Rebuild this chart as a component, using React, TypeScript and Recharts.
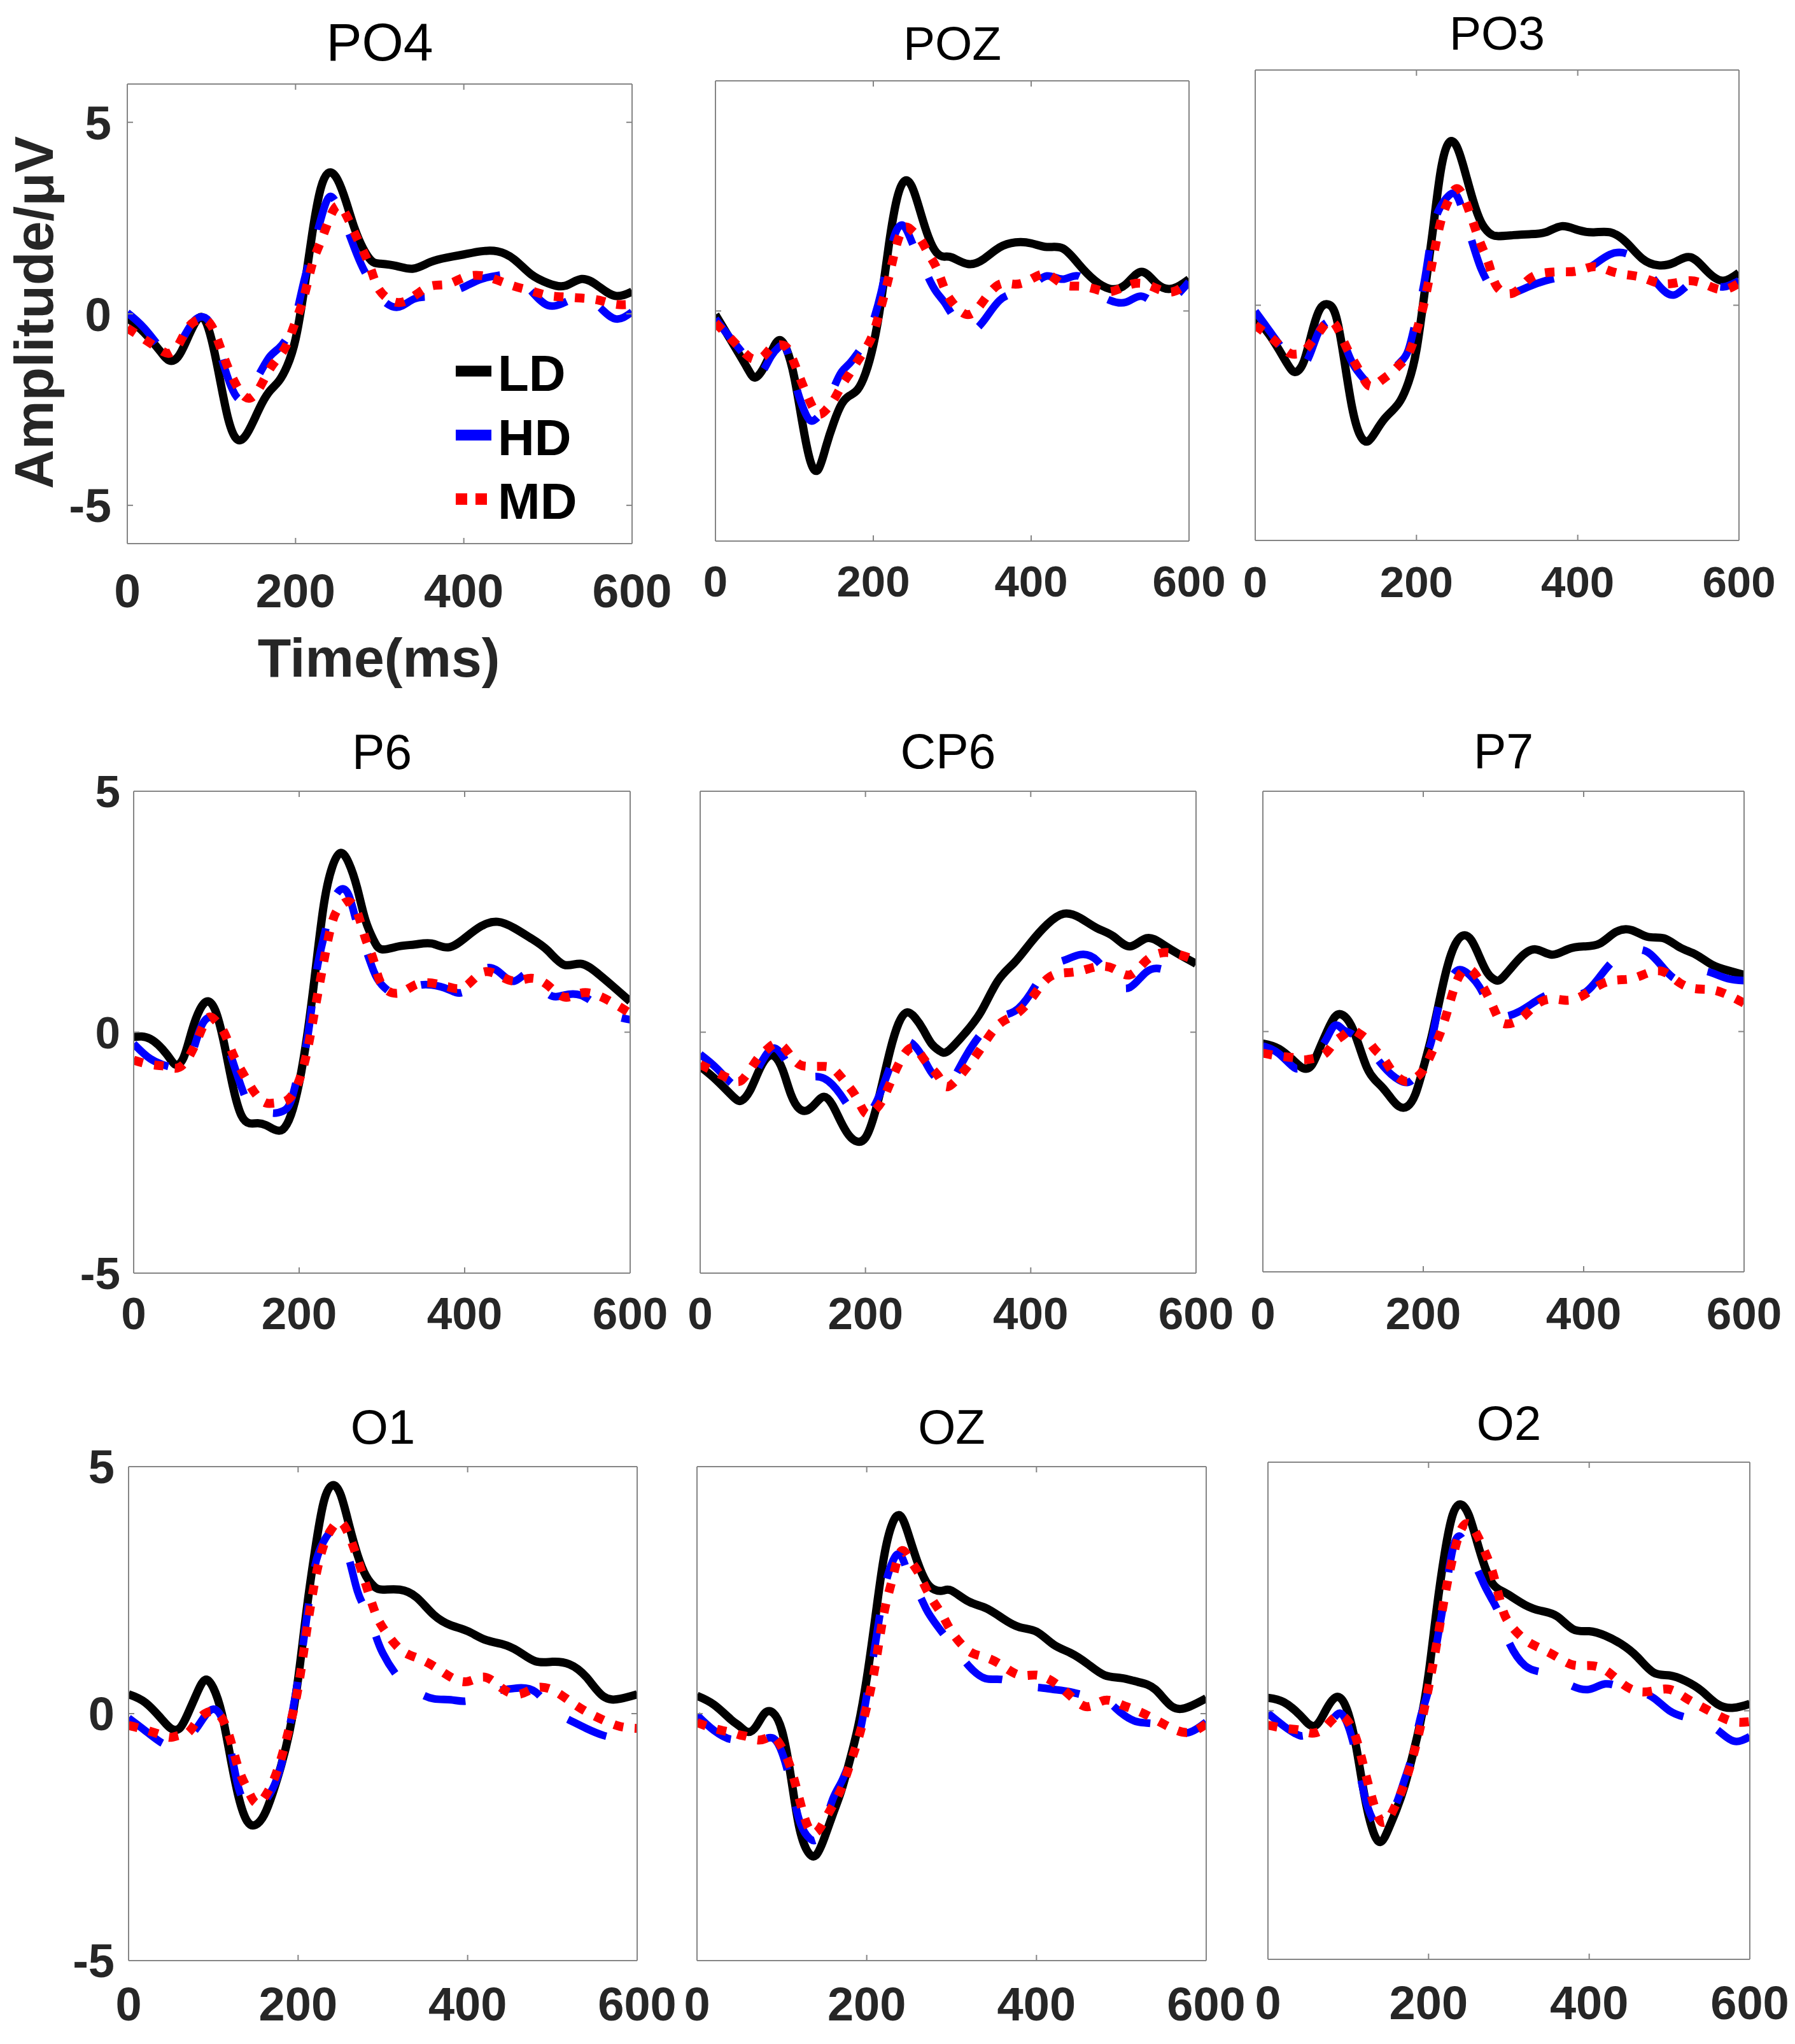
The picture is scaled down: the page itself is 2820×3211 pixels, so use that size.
import React from 'react';
import { LineChart, Line, XAxis, YAxis, Legend } from 'recharts';

const W = 2820;
const H = 3211;
const FONT = "'Liberation Sans', Arial, Helvetica, sans-serif";
const AXIS = '#858585';
const TICK_TXT = '#262626';

// time axis (ms)
const TIME = [0, 20, 40, 50, 60, 70, 80, 90, 100, 110, 120, 130, 140, 150, 160, 170, 180, 190, 200, 210, 220, 230, 240, 250, 260, 270, 280, 290, 300, 320, 340, 360, 380, 400, 420, 440, 460, 480, 500, 520, 540, 560, 580, 600];
const X_TICKS = [0, 200, 400, 600];
const Y_TICKS = [-5, 0, 5];
const SERIES_NAMES = ['LD', 'HD', 'MD'];

// ---- PO4 ----
const PO4_LD = [-0.1, -0.49, -1.0, -1.22, -1.13, -0.72, -0.26, -0.1, -0.66, -1.7, -2.75, -3.27, -3.2, -2.8, -2.34, -2.0, -1.76, -1.36, -0.66, 0.61, 2.12, 3.28, 3.69, 3.5, 2.93, 2.24, 1.72, 1.39, 1.31, 1.25, 1.18, 1.35, 1.47, 1.55, 1.63, 1.63, 1.42, 1.03, 0.8, 0.73, 0.91, 0.72, 0.47, 0.58];
const PO4_HD = [0.03, -0.37, -0.9, -1.0, -0.84, -0.49, -0.17, -0.08, -0.31, -1.0, -1.7, -2.17, -2.2, -1.85, -1.45, -1.1, -0.9, -0.62, -0.08, 0.85, 1.66, 2.47, 3.05, 2.82, 2.3, 1.72, 1.2, 0.79, 0.44, 0.17, 0.38, 0.45, 0.55, 0.7, 0.9, 1.0, 0.98, 0.6, 0.22, 0.3, 0.42, 0.2, -0.13, 0.05];
const PO4_MD = [-0.37, -0.66, -0.95, -1.03, -0.84, -0.43, -0.2, -0.14, -0.31, -0.84, -1.42, -1.88, -2.17, -2.15, -1.82, -1.42, -1.13, -0.78, -0.2, 0.44, 1.31, 1.89, 2.47, 2.82, 2.59, 2.12, 1.66, 1.14, 0.61, 0.3, 0.45, 0.72, 0.77, 0.95, 1.0, 0.88, 0.72, 0.6, 0.48, 0.44, 0.41, 0.36, 0.25, 0.25];

// ---- POZ ----
const POZ_LD = [-0.08, -0.65, -1.23, -1.45, -1.27, -0.92, -0.64, -0.83, -1.45, -2.42, -3.25, -3.45, -2.95, -2.42, -2.02, -1.84, -1.71, -1.36, -0.74, 0.23, 1.47, 2.44, 2.83, 2.66, 2.13, 1.6, 1.27, 1.18, 1.16, 1.02, 1.13, 1.38, 1.49, 1.47, 1.39, 1.36, 1.02, 0.67, 0.48, 0.58, 0.85, 0.58, 0.49, 0.69];
const POZ_HD = [-0.17, -0.61, -1.05, -1.35, -1.3, -1.0, -0.79, -0.83, -1.5, -2.06, -2.38, -2.3, -2.07, -1.67, -1.32, -1.14, -0.92, -0.65, -0.21, 0.41, 1.2, 1.77, 1.82, 1.45, 1.1, 0.72, 0.41, 0.19, -0.08, -0.43, -0.21, 0.23, 0.39, 0.54, 0.76, 0.69, 0.76, 0.45, 0.23, 0.19, 0.32, 0.14, 0.27, 0.63];
const POZ_MD = [-0.26, -0.61, -0.96, -1.05, -1.0, -0.81, -0.74, -0.79, -1.14, -1.58, -1.98, -2.24, -2.15, -1.93, -1.62, -1.36, -1.09, -0.83, -0.48, 0.1, 0.76, 1.47, 1.82, 1.73, 1.55, 1.24, 0.94, 0.49, 0.19, -0.08, 0.23, 0.58, 0.58, 0.69, 0.8, 0.58, 0.54, 0.48, 0.42, 0.54, 0.6, 0.48, 0.42, 0.63];

// ---- PO3 ----
const PO3_LD = [-0.26, -0.69, -1.25, -1.42, -1.21, -0.6, -0.09, 0.02, -0.22, -1.12, -2.16, -2.76, -2.89, -2.67, -2.42, -2.24, -2.03, -1.64, -0.95, 0.26, 1.55, 2.85, 3.45, 3.37, 2.85, 2.24, 1.77, 1.54, 1.47, 1.49, 1.51, 1.55, 1.68, 1.6, 1.55, 1.55, 1.34, 0.99, 0.85, 0.91, 1.02, 0.73, 0.52, 0.69];
const PO3_HD = [-0.13, -0.6, -1.04, -1.12, -1.25, -0.95, -0.52, -0.35, -0.35, -0.78, -1.21, -1.47, -1.64, -1.6, -1.47, -1.38, -1.21, -0.95, -0.26, 0.52, 1.58, 2.1, 2.33, 2.33, 1.85, 1.29, 0.78, 0.43, 0.22, 0.26, 0.4, 0.52, 0.6, 0.67, 0.86, 1.08, 1.1, 0.86, 0.43, 0.22, 0.47, 0.47, 0.39, 0.52];
const PO3_MD = [-0.43, -0.69, -0.99, -1.04, -0.99, -0.78, -0.56, -0.35, -0.43, -0.78, -1.12, -1.42, -1.7, -1.68, -1.55, -1.42, -1.25, -1.04, -0.56, 0.09, 0.95, 1.77, 2.24, 2.48, 2.24, 1.77, 1.29, 0.86, 0.39, 0.26, 0.56, 0.69, 0.71, 0.73, 0.82, 0.73, 0.65, 0.59, 0.47, 0.47, 0.52, 0.43, 0.33, 0.47];

// ---- P6 ----
const P6_LD = [-0.1, -0.14, -0.46, -0.67, -0.54, 0.01, 0.47, 0.64, 0.39, -0.29, -1.13, -1.72, -1.89, -1.89, -1.93, -2.02, -2.02, -1.72, -1.05, -0.03, 1.32, 2.67, 3.43, 3.72, 3.51, 3.0, 2.33, 1.91, 1.72, 1.78, 1.82, 1.84, 1.76, 1.95, 2.2, 2.29, 2.16, 1.95, 1.7, 1.4, 1.42, 1.23, 0.94, 0.64];
const P6_HD = [-0.24, -0.55, -0.7, -0.72, -0.67, -0.46, 0.05, 0.3, 0.22, -0.12, -0.62, -1.13, -1.51, -1.6, -1.65, -1.68, -1.64, -1.43, -0.79, -0.12, 1.15, 1.99, 2.67, 2.96, 2.84, 2.24, 1.74, 1.27, 0.98, 0.77, 0.94, 0.98, 0.89, 0.85, 1.27, 1.27, 1.06, 1.23, 0.81, 0.77, 0.77, 0.56, 0.35, 0.26];
const P6_MD = [-0.58, -0.67, -0.71, -0.75, -0.67, -0.41, -0.03, 0.3, 0.22, -0.03, -0.46, -0.79, -1.09, -1.34, -1.47, -1.47, -1.45, -1.34, -1.0, -0.37, 0.56, 1.49, 2.29, 2.62, 2.71, 2.5, 1.95, 1.49, 0.98, 0.81, 0.98, 1.02, 0.94, 0.94, 1.23, 1.19, 1.06, 1.12, 0.98, 0.73, 0.81, 0.77, 0.6, 0.39];

// ---- CP6 ----
const CP6_LD = [-0.71, -1.0, -1.34, -1.42, -1.22, -0.84, -0.54, -0.5, -0.79, -1.3, -1.59, -1.62, -1.47, -1.34, -1.51, -1.85, -2.14, -2.27, -2.19, -1.76, -1.09, -0.37, 0.18, 0.41, 0.3, 0.05, -0.24, -0.39, -0.39, -0.03, 0.43, 1.06, 1.44, 1.86, 2.24, 2.46, 2.37, 2.16, 1.99, 1.78, 1.95, 1.82, 1.61, 1.42];
const CP6_HD = [-0.46, -0.75, -1.09, -1.09, -1.0, -0.75, -0.46, -0.33, -0.5, -0.75, -0.84, -0.92, -0.92, -0.96, -1.09, -1.3, -1.55, -1.72, -1.72, -1.55, -1.17, -0.71, -0.33, -0.19, -0.29, -0.54, -0.84, -1.05, -1.13, -0.54, -0.03, 0.3, 0.43, 0.81, 1.32, 1.49, 1.61, 1.49, 1.06, 0.93, 1.25, 1.3, 1.15, 1.11];
const CP6_MD = [-0.67, -0.84, -1.0, -1.0, -0.79, -0.54, -0.37, -0.24, -0.29, -0.5, -0.67, -0.71, -0.71, -0.71, -0.75, -0.92, -1.13, -1.38, -1.68, -1.64, -1.43, -1.05, -0.67, -0.39, -0.33, -0.54, -0.75, -0.96, -1.13, -0.79, -0.33, 0.14, 0.35, 0.68, 1.11, 1.23, 1.27, 1.36, 1.32, 1.19, 1.49, 1.65, 1.61, 1.49];

// ---- P7 ----
const P7_LD = [-0.25, -0.36, -0.63, -0.76, -0.72, -0.38, 0.0, 0.31, 0.34, 0.13, -0.3, -0.76, -1.01, -1.18, -1.39, -1.56, -1.56, -1.31, -0.76, -0.13, 0.63, 1.35, 1.82, 2.0, 1.9, 1.56, 1.22, 1.07, 1.14, 1.52, 1.71, 1.6, 1.71, 1.77, 1.83, 2.07, 2.11, 1.97, 1.94, 1.75, 1.6, 1.39, 1.27, 1.18];
const P7_HD = [-0.3, -0.46, -0.76, -0.68, -0.55, -0.38, -0.13, 0.13, 0.04, -0.04, -0.17, -0.3, -0.51, -0.72, -0.89, -1.01, -1.06, -0.93, -0.59, -0.21, 0.59, 0.97, 1.24, 1.27, 1.14, 0.93, 0.63, 0.42, 0.31, 0.42, 0.63, 0.8, 0.82, 0.8, 1.14, 1.52, 1.69, 1.65, 1.31, 1.07, 1.24, 1.22, 1.1, 1.06];
const P7_MD = [-0.45, -0.51, -0.55, -0.59, -0.57, -0.53, -0.42, -0.21, -0.08, 0.03, -0.04, -0.17, -0.38, -0.55, -0.8, -0.97, -1.04, -0.97, -0.8, -0.46, -0.08, 0.42, 0.97, 1.27, 1.28, 1.06, 0.76, 0.4, 0.17, 0.25, 0.55, 0.68, 0.65, 0.76, 0.97, 1.07, 1.1, 1.22, 1.24, 1.01, 0.89, 0.87, 0.76, 0.59];

// ---- O1 ----
const O1_LD = [0.39, 0.22, -0.13, -0.3, -0.3, 0.0, 0.39, 0.68, 0.52, 0.0, -0.87, -1.7, -2.18, -2.25, -2.05, -1.61, -1.05, -0.35, 0.7, 2.09, 3.31, 4.27, 4.62, 4.44, 3.83, 3.22, 2.79, 2.57, 2.51, 2.51, 2.35, 2.0, 1.79, 1.67, 1.5, 1.41, 1.26, 1.06, 1.05, 1.0, 0.74, 0.35, 0.3, 0.39];
const O1_HD = [-0.09, -0.35, -0.6, -0.6, -0.55, -0.48, -0.3, -0.05, 0.09, -0.09, -0.7, -1.52, -1.83, -1.92, -1.79, -1.52, -1.05, -0.26, 0.7, 1.92, 3.0, 3.48, 3.7, 3.57, 3.14, 2.48, 2.09, 1.66, 1.22, 0.7, 0.44, 0.3, 0.28, 0.26, 0.42, 0.48, 0.52, 0.44, 0.09, -0.13, -0.3, -0.44, -0.48, -0.35];
const O1_MD = [-0.24, -0.33, -0.44, -0.48, -0.44, -0.39, -0.17, 0.0, 0.04, -0.09, -0.52, -1.13, -1.52, -1.81, -1.7, -1.39, -0.91, -0.26, 0.52, 1.66, 2.7, 3.4, 3.75, 3.88, 3.61, 3.14, 2.61, 2.09, 1.74, 1.31, 1.13, 0.96, 0.74, 0.65, 0.74, 0.52, 0.39, 0.52, 0.48, 0.26, 0.04, -0.13, -0.26, -0.3];

// ---- OZ ----
const OZ_LD = [0.36, 0.18, -0.12, -0.25, -0.37, -0.25, 0.01, 0.01, -0.34, -1.21, -2.26, -2.78, -2.87, -2.52, -2.04, -1.56, -0.95, -0.25, 0.71, 1.93, 3.14, 3.84, 4.0, 3.58, 3.06, 2.67, 2.51, 2.49, 2.49, 2.27, 2.14, 1.93, 1.75, 1.66, 1.4, 1.23, 1.01, 0.78, 0.72, 0.64, 0.49, 0.14, 0.14, 0.31];
const OZ_HD = [-0.03, -0.34, -0.52, -0.47, -0.47, -0.51, -0.51, -0.5, -0.78, -1.39, -2.13, -2.48, -2.56, -2.26, -1.73, -1.39, -0.99, -0.51, 0.36, 1.4, 2.45, 3.06, 3.21, 2.77, 2.47, 2.12, 1.85, 1.62, 1.4, 0.97, 0.71, 0.69, 0.57, 0.53, 0.49, 0.44, 0.36, 0.29, 0.01, -0.17, -0.21, -0.34, -0.38, -0.17];
const OZ_MD = [-0.18, -0.3, -0.38, -0.43, -0.47, -0.53, -0.51, -0.47, -0.69, -1.08, -1.69, -2.26, -2.41, -2.17, -1.86, -1.52, -1.04, -0.51, 0.14, 0.97, 2.01, 2.71, 3.28, 3.14, 2.88, 2.53, 2.23, 1.97, 1.66, 1.27, 1.14, 0.97, 0.78, 0.78, 0.64, 0.36, 0.14, 0.27, 0.18, 0.05, -0.12, -0.3, -0.38, -0.21];

// ---- O2 ----
const O2_LD = [0.26, 0.17, -0.09, -0.26, -0.29, -0.05, 0.21, 0.26, -0.05, -0.74, -1.69, -2.38, -2.64, -2.38, -1.99, -1.52, -0.91, -0.22, 0.73, 2.03, 3.16, 3.94, 4.15, 3.94, 3.42, 2.9, 2.55, 2.42, 2.33, 2.13, 2.01, 1.9, 1.64, 1.6, 1.51, 1.34, 1.08, 0.77, 0.71, 0.6, 0.4, 0.13, 0.06, 0.14];
const O2_HD = [-0.05, -0.31, -0.5, -0.45, -0.4, -0.3, -0.18, -0.05, -0.31, -0.91, -1.69, -2.17, -2.3, -2.12, -1.86, -1.39, -0.87, -0.13, 0.43, 1.34, 2.29, 3.24, 3.5, 3.16, 2.86, 2.51, 2.21, 1.86, 1.38, 0.91, 0.78, 0.65, 0.49, 0.43, 0.54, 0.47, 0.39, 0.26, 0.0, -0.13, -0.22, -0.39, -0.61, -0.52];
const O2_MD = [-0.29, -0.35, -0.39, -0.44, -0.44, -0.35, -0.18, -0.09, -0.22, -0.57, -1.17, -1.78, -2.21, -2.17, -1.86, -1.47, -0.95, -0.31, 0.47, 1.34, 2.29, 3.07, 3.63, 3.76, 3.55, 3.2, 2.77, 2.16, 1.77, 1.43, 1.25, 1.08, 0.92, 0.91, 0.82, 0.56, 0.39, 0.4, 0.43, 0.26, 0.08, -0.09, -0.22, -0.22];

// ---- styles of the three series ----
const STYLE: Record<string, any> = {
  LD: { stroke: '#000000', width: 13, dash: undefined, legendDash: undefined, legendWidth: 17 },
  HD: { stroke: '#0000ff', width: 12, dash: '66 58', legendDash: undefined, legendWidth: 17 },
  MD: { stroke: '#ff0000', width: 14, dash: '15 18', legendDash: '18 13', legendWidth: 18 },
};

// ---- layout of the nine panels ----
const PANELS = [
  { name: 'PO4', ld: PO4_LD, hd: PO4_HD, md: PO4_MD, box: { l: 200, r: 993, t: 132, b: 854 }, yDomain: [-6, 6], yLabels: true, titleY: 95, titleFs: 84, tickFs: 75, xLabY: 954, yLabGap: 25, extras: true },
  { name: 'POZ', ld: POZ_LD, hd: POZ_HD, md: POZ_MD, box: { l: 1124, r: 1868, t: 127, b: 850 }, yDomain: [-5, 5], yLabels: false, titleY: 94, titleFs: 75, tickFs: 69, xLabY: 937, yLabGap: 22, extras: false },
  { name: 'PO3', ld: PO3_LD, hd: PO3_HD, md: PO3_MD, box: { l: 1972, r: 2732, t: 110, b: 849 }, yDomain: [-5, 5], yLabels: false, titleY: 78, titleFs: 75, tickFs: 69, xLabY: 938, yLabGap: 22, extras: false },
  { name: 'P6', ld: P6_LD, hd: P6_HD, md: P6_MD, box: { l: 210, r: 990, t: 1243, b: 2000 }, yDomain: [-5, 5], yLabels: true, titleY: 1208, titleFs: 77, tickFs: 71, xLabY: 2088, yLabGap: 21, extras: false },
  { name: 'CP6', ld: CP6_LD, hd: CP6_HD, md: CP6_MD, box: { l: 1100, r: 1879, t: 1243, b: 2000 }, yDomain: [-5, 5], yLabels: false, titleY: 1207, titleFs: 77, tickFs: 71, xLabY: 2088, yLabGap: 21, extras: false },
  { name: 'P7', ld: P7_LD, hd: P7_HD, md: P7_MD, box: { l: 1984, r: 2740, t: 1243, b: 1998 }, yDomain: [-5, 5], yLabels: false, titleY: 1207, titleFs: 77, tickFs: 71, xLabY: 2088, yLabGap: 21, extras: false },
  { name: 'O1', ld: O1_LD, hd: O1_HD, md: O1_MD, box: { l: 202, r: 1001, t: 2304, b: 3080 }, yDomain: [-5, 5], yLabels: true, titleY: 2268, titleFs: 76, tickFs: 74, xLabY: 3174, yLabGap: 22, extras: false },
  { name: 'OZ', ld: OZ_LD, hd: OZ_HD, md: OZ_MD, box: { l: 1095, r: 1895, t: 2304, b: 3080 }, yDomain: [-5, 5], yLabels: false, titleY: 2268, titleFs: 76, tickFs: 74, xLabY: 3174, yLabGap: 22, extras: false },
  { name: 'O2', ld: O2_LD, hd: O2_HD, md: O2_MD, box: { l: 1992, r: 2749, t: 2297, b: 3078 }, yDomain: [-5, 5], yLabels: false, titleY: 2262, titleFs: 76, tickFs: 74, xLabY: 3172, yLabGap: 22, extras: false },
];

const TICK_LEN = 9;

const BottomTick = (props: any) => {
  const { x, y, payload, ly, fs } = props;
  return (
    <g>
      <line x1={x} x2={x} y1={y} y2={y - TICK_LEN} stroke={AXIS} strokeWidth={2} />
      <text x={x} y={ly} textAnchor="middle" fontFamily={FONT} fontWeight="bold" fontSize={fs} fill={TICK_TXT}>
        {payload.value}
      </text>
    </g>
  );
};

const TopTick = (props: any) => {
  const { x, y } = props;
  return <line x1={x} x2={x} y1={y} y2={y + TICK_LEN} stroke={AXIS} strokeWidth={2} />;
};

const LeftTick = (props: any) => {
  const { x, y, payload, show, fs, gap } = props;
  return (
    <g>
      <line x1={x} x2={x + TICK_LEN} y1={y} y2={y} stroke={AXIS} strokeWidth={2} />
      {show ? (
        <text x={x - gap} y={y + fs * 0.355} textAnchor="end" fontFamily={FONT} fontWeight="bold" fontSize={fs} fill={TICK_TXT}>
          {payload.value}
        </text>
      ) : null}
    </g>
  );
};

const RightTick = (props: any) => {
  const { x, y } = props;
  return <line x1={x} x2={x - TICK_LEN} y1={y} y2={y} stroke={AXIS} strokeWidth={2} />;
};

const FreeText = (props: any) => {
  const { tx, ty, text, fs, rot, weight, fill } = props;
  return (
    <text
      x={tx}
      y={ty}
      textAnchor="middle"
      fontFamily={FONT}
      fontSize={fs}
      fontWeight={weight}
      fill={fill}
      transform={rot ? `rotate(${rot} ${tx} ${ty})` : undefined}
    >
      {text}
    </text>
  );
};

const LegendBox = (props: any) => {
  const items = ((props.payload || []) as any[])
    .slice()
    .sort((a, b) => SERIES_NAMES.indexOf(String(a.dataKey)) - SERIES_NAMES.indexOf(String(b.dataKey)));
  return (
    <svg width={330} height={330} style={{ display: 'block', overflow: 'visible' }}>
      {items.map((it, i) => {
        const key = String(it.dataKey);
        const st = STYLE[key] || STYLE.LD;
        const cy = 63 + i * 100.5;
        return (
          <g key={key}>
            <line x1={16} x2={72} y1={cy} y2={cy} stroke={it.color} strokeWidth={st.legendWidth} strokeDasharray={st.legendDash} />
            <text x={82} y={cy + 31} fontFamily={FONT} fontWeight="bold" fontSize={80} fill="#000">
              {it.value}
            </text>
          </g>
        );
      })}
    </svg>
  );
};

function Panel({ p }: { p: any }) {
  const rows = TIME.map((t, i) => ({ t, LD: p.ld[i], HD: p.hd[i], MD: p.md[i] }));
  const { l, r, t, b } = p.box;
  const cx = (l + r) / 2;
  return (
    <div style={{ position: 'absolute', left: 0, top: 0, width: W, height: H }}>
      <LineChart width={W} height={H} data={rows} margin={{ top: t - 1, left: l - 1, right: W - r - 1, bottom: H - b - 1 }}>
        <XAxis
          xAxisId="b"
          dataKey="t"
          type="number"
          domain={[0, 600]}
          ticks={X_TICKS}
          interval={0}
          height={1}
          tickSize={0}
          tickMargin={0}
          tickLine={false}
          allowDataOverflow
          axisLine={{ stroke: AXIS, strokeWidth: 2 }}
          tick={(tp: any) => <BottomTick {...tp} ly={p.xLabY} fs={p.tickFs} />}
          label={p.extras ? <FreeText tx={595} ty={1063} text="Time(ms)" fs={86} weight="bold" fill={TICK_TXT} /> : undefined}
        />
        <XAxis
          xAxisId="t"
          orientation="top"
          dataKey="t"
          type="number"
          domain={[0, 600]}
          ticks={X_TICKS}
          interval={0}
          height={1}
          tickSize={0}
          tickMargin={0}
          tickLine={false}
          allowDataOverflow
          axisLine={{ stroke: AXIS, strokeWidth: 2 }}
          tick={(tp: any) => <TopTick {...tp} />}
          label={<FreeText tx={cx} ty={p.titleY} text={p.name} fs={p.titleFs} weight="normal" fill="#000" />}
        />
        <YAxis
          yAxisId="l"
          type="number"
          domain={p.yDomain}
          ticks={Y_TICKS}
          interval={0}
          width={1}
          tickSize={0}
          tickMargin={0}
          tickLine={false}
          allowDataOverflow
          axisLine={{ stroke: AXIS, strokeWidth: 2 }}
          tick={(tp: any) => <LeftTick {...tp} show={p.yLabels} fs={p.tickFs} gap={p.yLabGap} />}
          label={p.extras ? <FreeText tx={83} ty={491} text="Amplitude/μV" fs={86} weight="bold" fill={TICK_TXT} rot={-90} /> : undefined}
        />
        <YAxis
          yAxisId="r"
          orientation="right"
          type="number"
          domain={p.yDomain}
          ticks={Y_TICKS}
          interval={0}
          width={1}
          tickSize={0}
          tickMargin={0}
          tickLine={false}
          allowDataOverflow
          axisLine={{ stroke: AXIS, strokeWidth: 2 }}
          tick={(tp: any) => <RightTick {...tp} />}
        />
        {SERIES_NAMES.map((s) => (
          <Line
            key={s}
            xAxisId="b"
            yAxisId="l"
            name={s}
            dataKey={s}
            type="natural"
            stroke={STYLE[s].stroke}
            strokeWidth={STYLE[s].width}
            strokeDasharray={STYLE[s].dash}
            strokeLinejoin="round"
            dot={false}
            activeDot={false}
            isAnimationActive={false}
            legendType="line"
          />
        ))}
        {p.extras ? (
          <Legend
            layout="vertical"
            align="center"
            verticalAlign="middle"
            content={(lp: any) => <LegendBox {...lp} />}
            wrapperStyle={{ position: 'absolute', left: 700, top: 520, width: 330, height: 330 }}
          />
        ) : null}
      </LineChart>
    </div>
  );
}

export default function App() {
  return (
    <div style={{ position: 'absolute', left: 0, top: 0, width: W, height: H, background: '#ffffff', overflow: 'hidden' }}>
      {PANELS.map((p) => (
        <Panel key={p.name} p={p} />
      ))}
    </div>
  );
}
